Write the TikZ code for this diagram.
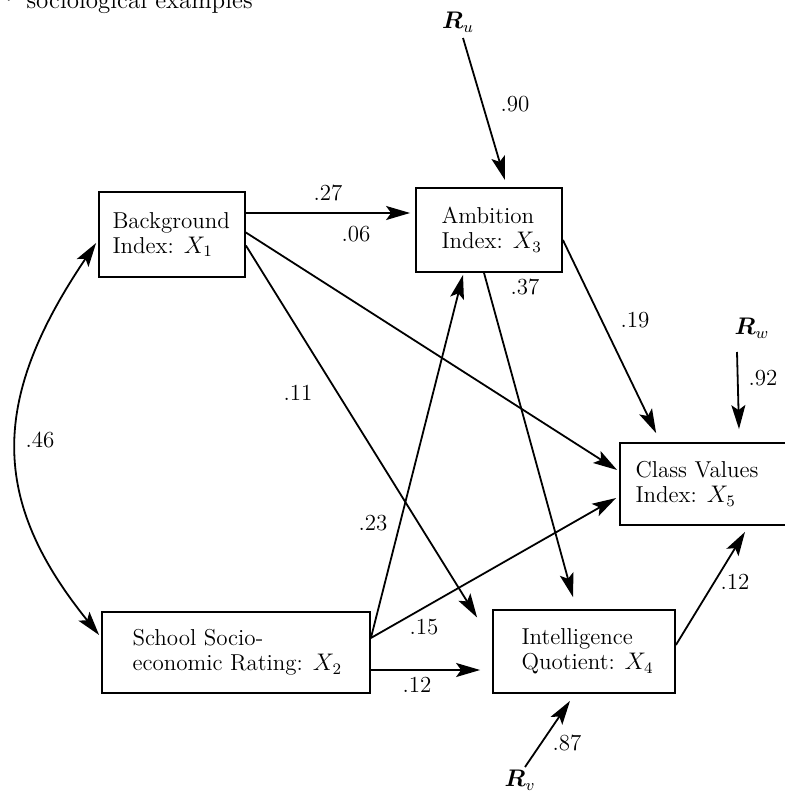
\documentclass[tikz,border=0pt]{standalone}
\usepackage{bm}
\usetikzlibrary{arrows.meta,calc}
\begin{document}
\begin{tikzpicture}[x=0.5pt,y=-0.5pt,
  font=\fontsize{11.5}{12.5}\selectfont,
  box/.style={draw, line width=0.9pt, inner sep=0pt},
  lbl/.style={inner sep=0pt, align=left, anchor=west},
  arr/.style={line width=0.9pt, -{Stealth[length=12pt,width=7pt,inset=2.5pt]}},
  arrb/.style={line width=0.9pt, {Stealth[length=12pt,width=7pt,inset=2.5pt]}-{Stealth[length=12pt,width=7pt,inset=2.5pt]}},
  coef/.style={inner sep=0pt}]
\useasboundingbox (0,0) rectangle (785,792);

% header (cut off at the top, as in the source page)
\node[anchor=base west, inner sep=0pt, font=\fontsize{12.5}{14}\selectfont] (hdr) at (-1,9) {\textperiodcentered\ sociological examples};

% boxes
\node[box, minimum width=73pt, minimum height=42.5pt] (X1) at (172,234.5) {};
\node[lbl] (t1) at ($(X1.west)+(14,0)$) {Background\\Index: $X_1$};
\node[box, minimum width=73pt, minimum height=42pt] (X3) at (489,230) {};
\node[lbl] (t3) at ($(X3.west)+(26,0)$) {Ambition\\Index: $X_3$};
\node[box, minimum width=85pt, minimum height=41pt] (X5) at (705,484) {};
\node[lbl] (t5) at ($(X5.west)+(16,0)$) {Class Values\\Index: $X_5$};
\node[box, minimum width=134pt, minimum height=40.5pt] (X2) at (236,652.5) {};
\node[lbl] (t2) at ($(X2.west)+(31,0)$) {School Socio-\\economic Rating: $X_2$};
\node[box, minimum width=91pt, minimum height=41.5pt] (X4) at (584,651.5) {};
\node[lbl] (t4) at ($(X4.west)+(29,0)$) {Intelligence\\Quotient: $X_4$};

% residuals
\node (Ru) at (458,22) {$\bm{R}_u$};
\node (Rw) at (752,328) {$\bm{R}_w$};
\node (Rv) at (520,780) {$\bm{R}_v$};

% paths
\draw[arr] ($(X1.east)+(0,-21.5)$) -- ($(X3.west)+(-5,-17)$);
\draw[arr] ($(X1.east)+(0,-2)$) -- ($(X5.west)+(-2,-14)$);
\draw[arr] ($(X1.east)+(0,11)$) -- ($(X4.west)+(-15,-34)$);
\draw[arr] ($(X3.south)+(-5,0)$) -- ($(X4.north)+(-11,-12)$);
\draw[arr] ($(X3.east)+(0,10)$) -- ($(X5.north west)+(37,-9)$);
\draw[arr] ($(Ru)+(5,16)$) -- ($(X3.north)+(16,-7)$);
\draw[arr] ($(Rw)+(-15,24)$) -- ($(X5.north)+(34,-13)$);
\draw[arr] ($(X2.east)+(0,-14.5)$) -- ($(X3.south)+(-26,2)$);
\draw[arr] ($(X2.east)+(0,-14.5)$) -- ($(X5.west)+(-3,14)$);
\draw[arr] ($(X2.east)+(0,17.5)$) -- ($(X4.west)+(-12,18.5)$);
\draw[arr] ($(X4.east)+(0,-6.5)$) -- ($(X5.south)+(40,6)$);
\draw[arr] ($(Rv)+(5,-13)$) -- ($(X4.south)+(-14,7)$);
\draw[arrb] ($(X1.west)+(-2,8.5)$) .. controls (-10,400) and (-10,500) .. ($(X2.west)+(-2,-17.5)$);

% coefficients
\node[coef] (c90) at (515,104) {.90};
\node[coef] (c27) at (328,193) {.27};
\node[coef] (c06) at (356,234) {.06};
\node[coef] (c37) at (525,287) {.37};
\node[coef] (c19) at (635,320) {.19};
\node[coef] (c92) at (763,378) {.92};
\node[coef] (c11) at (298,393) {.11};
\node[coef] (c46) at (40,440) {.46};
\node[coef] (c23) at (373,523) {.23};
\node[coef] (c15) at (424,627) {.15};
\node[coef] (c12a) at (417,685) {.12};
\node[coef] (c12b) at (735,582) {.12};
\node[coef] (c87) at (567,743) {.87};
\end{tikzpicture}
\end{document}
